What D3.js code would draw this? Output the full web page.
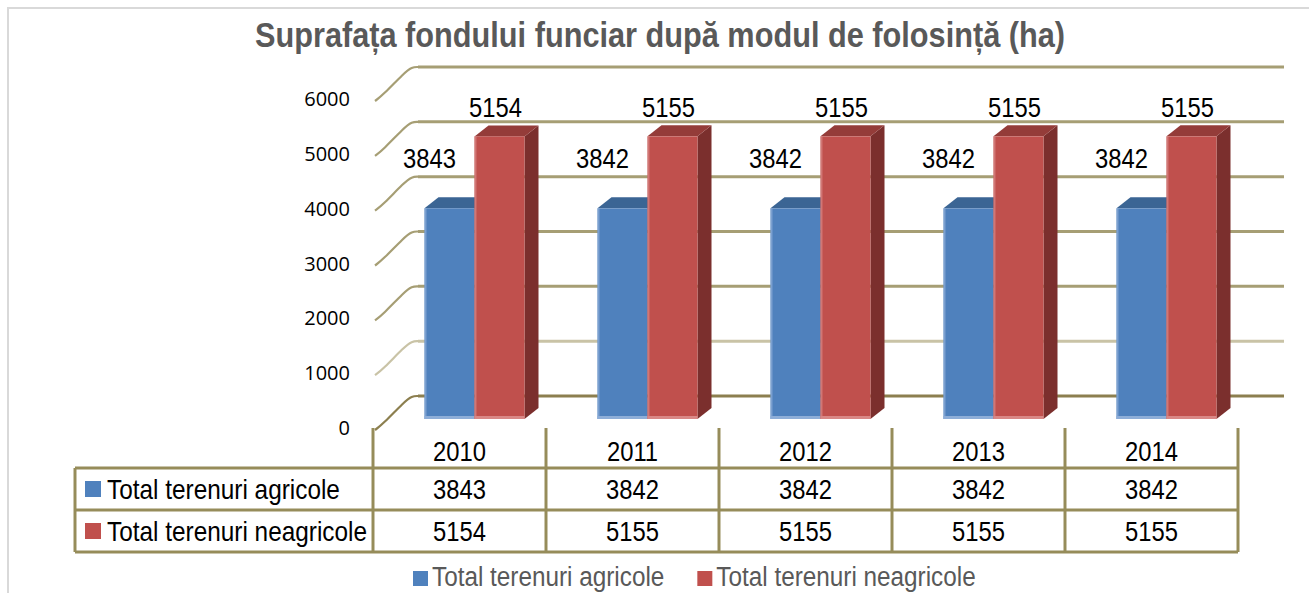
<!DOCTYPE html>
<html>
<head>
<meta charset="utf-8">
<script src="https://cdn.jsdelivr.net/npm/d3@7"></script>
<style>
  html, body { margin: 0; padding: 0; background: #fff; }
  svg { display: block; }
</style>
</head>
<body>
<svg id="chart" width="1309" height="593"></svg>
<script>
// chart data
const years = ['2010', '2011', '2012', '2013', '2014'];
const agricole = [3843, 3842, 3842, 3842, 3842];
const neagricole = [5154, 5155, 5155, 5155, 5155];
const seriesNames = ['Total terenuri agricole', 'Total terenuri neagricole'];
const yTicks = [0, 1000, 2000, 3000, 4000, 5000, 6000];

const series = [
  { name: seriesNames[0], values: agricole, front: '#4f81bd', top: '#3b6594', side: '#2f5077', light: '#8eaed8' },
  { name: seriesNames[1], values: neagricole, front: '#c0504d', top: '#943c39', side: '#7b2f2d', light: '#d98886' },
];

const svg = d3.select('#chart');
const FONT = '"Liberation Sans", Arial, sans-serif';

// squeeze text to look like Arial Narrow
function narrow(sel, k) {
  sel.each(function () {
    const w = this.getComputedTextLength();
    d3.select(this).attr('textLength', w * k).attr('lengthAdjust', 'spacingAndGlyphs');
  });
}

// 3d geometry: back wall vs front floor edge
const depth = { dx: 43, dy: 32 };
const barShift = { dx: 15, dy: 23 }; // bar front plane relative to back wall (y) / front edge (x)
const barDepth = { dx: 14, dy: 11 };

const x = d3.scaleBand().domain(years).range([373, 1238]);
const pairWidth = 100;
const xs = d3.scaleBand().domain(seriesNames).range([0, pairWidth]);
const y = d3.scaleLinear().domain([0, 6000]).range([396, 67]); // back wall

const gridColor = v => v === 0 ? '#8c7f4f' : (v === 1000 ? '#c9c3a6' : '#a69e74');

// outer frame
svg.append('path')
  .attr('d', 'M8,593 V8 H1309')
  .attr('fill', 'none')
  .attr('stroke', '#d9d9d9')
  .attr('stroke-width', 2);

// title
svg.append('text')
  .attr('x', 660)
  .attr('y', 47)
  .attr('text-anchor', 'middle')
  .attr('font-family', FONT)
  .attr('font-weight', 'bold')
  .attr('font-size', 35)
  .attr('fill', '#595959')
  .text('Suprafața fondului funciar după modul de folosință (ha)')
  .attr('textLength', 810)
  .attr('lengthAdjust', 'spacingAndGlyphs');

// back wall gridlines
svg.append('g')
  .selectAll('line')
  .data(yTicks)
  .enter()
  .append('line')
  .attr('x1', x.range()[0] + depth.dx + 2)
  .attr('x2', x.range()[1] + depth.dx + 3)
  .attr('y1', d => y(d))
  .attr('y2', d => y(d))
  .attr('stroke', gridColor)
  .attr('stroke-width', 3);

// side wall diagonals
const diag = d3.line().curve(d3.curveBasis);
svg.append('g')
  .selectAll('path')
  .data(yTicks)
  .enter()
  .append('path')
  .attr('d', d => {
    const x0 = x.range()[0] + 2, y0 = y(d) + depth.dy + 2;
    const x1 = x.range()[0] + depth.dx + 2, y1 = y(d);
    return diag([[x0, y0], [x0 + 8, y0 - 6], [x1 - 14, y1 + 6], [x1 - 6, y1], [x1, y1]]);
  })
  .attr('fill', 'none')
  .attr('stroke', gridColor)
  .attr('stroke-width', 2.2);

// y tick labels
svg.append('g')
  .selectAll('text')
  .data(yTicks)
  .enter()
  .append('text')
  .attr('x', 350)
  .attr('y', d => y(d) + depth.dy)
  .attr('dy', '0.35em')
  .attr('text-anchor', 'end')
  .attr('font-family', '"Open Sans", sans-serif')
  .attr('font-size', 20)
  .attr('fill', '#000')
  .text(d => d);

// bars
const bars = svg.append('g');
years.forEach((yr, i) => {
  const x0 = x(yr) + (x.bandwidth() - pairWidth) / 2 + barShift.dx;
  series.forEach(s => {
    const bx = x0 + xs(s.name);
    const bw = xs.bandwidth();
    const yb = y(0) + barShift.dy;
    const yt = y(s.values[i]) + barShift.dy;
    const g = bars.append('g');
    // side
    g.append('path')
      .attr('d', `M${bx + bw},${yt} L${bx + bw + barDepth.dx},${yt - barDepth.dy} L${bx + bw + barDepth.dx},${yb - barDepth.dy} L${bx + bw},${yb} Z`)
      .attr('fill', s.side);
    // top
    g.append('path')
      .attr('d', `M${bx},${yt} L${bx + barDepth.dx},${yt - barDepth.dy} L${bx + bw + barDepth.dx},${yt - barDepth.dy} L${bx + bw},${yt} Z`)
      .attr('fill', s.top);
    // front
    g.append('rect')
      .attr('x', bx)
      .attr('y', yt)
      .attr('width', bw)
      .attr('height', yb - yt)
      .attr('fill', s.front);
    // soft highlight on lower and left edges
    g.append('rect')
      .attr('x', bx)
      .attr('y', yb - 3)
      .attr('width', bw)
      .attr('height', 3)
      .attr('fill', s.light);
    g.append('rect')
      .attr('x', bx)
      .attr('y', yt)
      .attr('width', 2)
      .attr('height', yb - yt)
      .attr('fill', s.light)
      .attr('opacity', 0.7);
  });
});

// data labels
const labels = svg.append('g')
  .attr('font-family', FONT)
  .attr('font-size', 28)
  .attr('fill', '#000')
  .attr('text-anchor', 'middle');
years.forEach((yr, i) => {
  const x0 = x(yr) + (x.bandwidth() - pairWidth) / 2 + barShift.dx;
  labels.append('text')
    .attr('x', x0 + xs(seriesNames[0]) + xs.bandwidth() / 2 - 20)
    .attr('y', y(agricole[i]) + barShift.dy - 50)
    .attr('dy', '0.35em')
    .text(agricole[i]);
  labels.append('text')
    .attr('x', x0 + xs(seriesNames[1]) + xs.bandwidth() / 2 - 4)
    .attr('y', y(neagricole[i]) + barShift.dy - 29)
    .attr('dy', '0.35em')
    .text(neagricole[i]);
});
narrow(labels.selectAll('text'), 0.85);

// data table
const tableLeft = 75;
const rowTops = [y(0) + depth.dy, 468, 510, 552];
const tableColor = '#968c5a';
const table = svg.append('g');

table.selectAll('line.h')
  .data(rowTops.slice(1))
  .enter()
  .append('line')
  .attr('x1', tableLeft)
  .attr('x2', x.range()[1])
  .attr('y1', d => d)
  .attr('y2', d => d)
  .attr('stroke', tableColor)
  .attr('stroke-width', 3);

table.selectAll('line.v')
  .data(years.map(d => x(d)).concat([x.range()[1]]))
  .enter()
  .append('line')
  .attr('x1', d => d)
  .attr('x2', d => d)
  .attr('y1', rowTops[0])
  .attr('y2', rowTops[3])
  .attr('stroke', tableColor)
  .attr('stroke-width', 3);

table.append('line')
  .attr('x1', tableLeft)
  .attr('x2', tableLeft)
  .attr('y1', rowTops[1])
  .attr('y2', rowTops[3])
  .attr('stroke', tableColor)
  .attr('stroke-width', 3);

const cellText = table.append('g')
  .attr('font-family', FONT)
  .attr('font-size', 28)
  .attr('fill', '#000')
  .attr('text-anchor', 'middle');

const rows = [years, agricole, neagricole];
rows.forEach((row, r) => {
  const cy = (rowTops[r] + rowTops[r + 1]) / 2 + (r === 0 ? 3 : 0);
  row.forEach((v, i) => {
    cellText.append('text')
      .attr('x', x(years[i]) + x.bandwidth() / 2)
      .attr('y', cy)
      .attr('dy', '0.35em')
      .text(v);
  });
});
narrow(cellText.selectAll('text'), 0.85);

// legend keys inside table
series.forEach((s, r) => {
  const cy = (rowTops[r + 1] + rowTops[r + 2]) / 2;
  table.append('rect')
    .attr('x', 85)
    .attr('y', cy - 8)
    .attr('width', 16)
    .attr('height', 16)
    .attr('fill', s.front);
  const t = table.append('text')
    .attr('x', 107)
    .attr('y', cy)
    .attr('dy', '0.35em')
    .attr('font-family', FONT)
    .attr('font-size', 28)
    .attr('fill', '#000')
    .text(s.name);
  narrow(t, 0.87);
});

// bottom legend
const legend = svg.append('g');
let lx = 413;
series.forEach(s => {
  legend.append('rect')
    .attr('x', lx)
    .attr('y', 571)
    .attr('width', 15)
    .attr('height', 15)
    .attr('fill', s.front);
  const t = legend.append('text')
    .attr('x', lx + 19)
    .attr('y', 577)
    .attr('dy', '0.35em')
    .attr('font-family', FONT)
    .attr('font-size', 27)
    .attr('fill', '#595959')
    .text(s.name);
  narrow(t, 0.9);
  lx += 19 + (+t.attr('textLength')) + 33;
});
</script>
</body>
</html>
